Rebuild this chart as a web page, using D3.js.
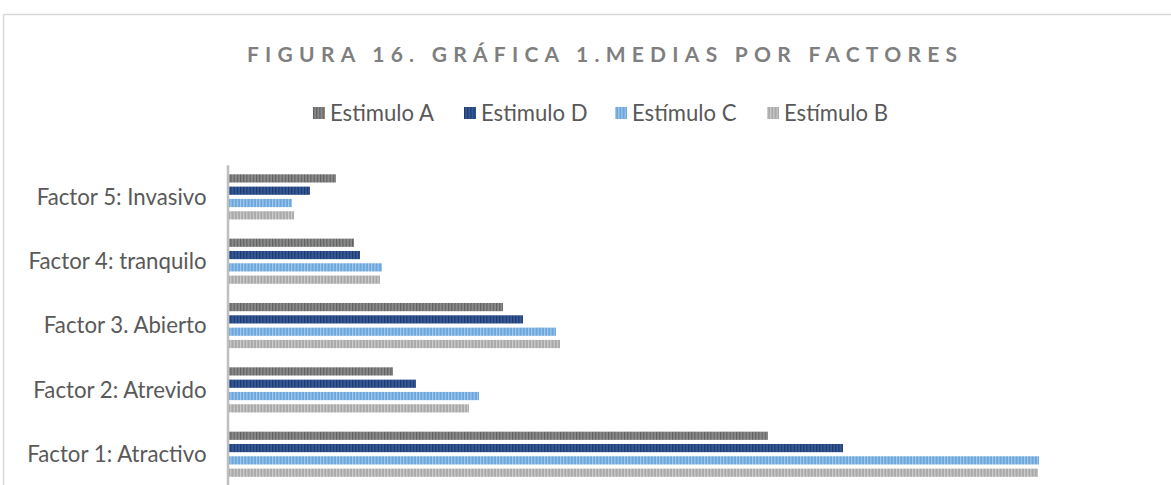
<!DOCTYPE html>
<html>
<head>
<meta charset="utf-8">
<script src="https://cdn.jsdelivr.net/npm/d3@7"></script>
<style>
  html, body { margin: 0; padding: 0; background: #fff; }
  svg { display: block; }
</style>
</head>
<body>
<svg id="chart" width="1171" height="485"></svg>
<script>
// ---- data ----
const categories = ["Factor 1: Atractivo", "Factor 2: Atrevido", "Factor 3. Abierto", "Factor 4: tranquilo", "Factor 5: Invasivo"];
const seriesNames = ["Estimulo A", "Estimulo D", "Estímulo C", "Estímulo B"];
const estimuloA = [5.39, 1.64, 2.74, 1.25, 1.07];
const estimuloD = [6.14, 1.87, 2.94, 1.31, 0.81];
const estimuloC = [8.10, 2.50, 3.27, 1.53, 0.63];
const estimuloB = [8.09, 2.40, 3.31, 1.51, 0.65];
const titleText = "FIGURA 16. GRÁFICA 1.MEDIAS POR FACTORES";

const seriesValues = [estimuloA, estimuloD, estimuloC, estimuloB];
const seriesStyle = [
  { base: "#8a8a8a", stripe: "#5e5e5e" },
  { base: "#34589a", stripe: "#1f3864" },
  { base: "#6aa6dc", stripe: "#a9cdee" },
  { base: "#a9a9a9", stripe: "#cfcfcf" }
];

const svg = d3.select("#chart");
const font = "Lato, 'Open Sans', sans-serif";

// helper: fit font-size so a reference text gets a target width
function fitSize(family, weight, sample, targetW) {
  const t = svg.append("text").attr("font-family", family).attr("font-weight", weight)
    .attr("font-size", 20).text(sample);
  const w = t.node().getComputedTextLength();
  t.remove();
  return 20 * targetW / w;
}
const labelSize = fitSize(font, "normal", "Factor 4: tranquilo", 178);
const legendSize = fitSize(font, "normal", "Estimulo A", 104);

// patterns
const defs = svg.append("defs");
seriesStyle.forEach((s, i) => {
  const p = defs.append("pattern")
    .attr("id", "pat" + i)
    .attr("patternUnits", "userSpaceOnUse")
    .attr("width", 3.2).attr("height", 10);
  p.append("rect").attr("width", 3.2).attr("height", 10).attr("fill", s.base);
  p.append("rect").attr("x", 0).attr("width", 1.1).attr("height", 10).attr("fill", s.stripe);
});

// chart border
svg.append("path")
  .attr("d", "M3.5,486 L3.5,14.5 L1175,14.5")
  .attr("fill", "none").attr("stroke", "#d9d9d9").attr("stroke-width", 1.5);

// title
const title = svg.append("text")
  .attr("x", 602).attr("y", 62)
  .attr("text-anchor", "middle")
  .attr("font-family", font)
  .attr("font-weight", "bold")
  .attr("font-size", 21)
  .attr("fill", "#7f7f7f")
  .text(titleText);
{
  const targetW = 710;
  const n = titleText.length;
  const w = title.node().getComputedTextLength();
  const ls = (targetW - w) / (n - 1);
  title.attr("letter-spacing", ls);
  title.attr("x", 602 + ls / 2);
}

// scales
const y = d3.scaleBand()
  .domain(categories.slice().reverse())
  .range([164.7, 486.4])
  .padding(0);
const yInner = d3.scaleBand()
  .domain(d3.range(seriesNames.length))
  .range([0, y.bandwidth()])
  .paddingInner(1 / 3)
  .paddingOuter(0.78);
const x = d3.scaleLinear().domain([0, 9.2]).range([229, 1149]);

// bars
const groups = svg.append("g").selectAll("g")
  .data(categories)
  .join("g")
  .attr("transform", d => `translate(0,${y(d)})`);
groups.selectAll("rect")
  .data((d, ci) => seriesValues.map((vals, si) => ({ si, v: vals[ci] })))
  .join("rect")
  .attr("x", x(0))
  .attr("y", d => yInner(d.si))
  .attr("width", d => x(d.v) - x(0))
  .attr("height", yInner.bandwidth())
  .attr("fill", d => `url(#pat${d.si})`);

// y axis (line only + labels)
const yAxis = d3.axisLeft(y).tickSize(0).tickPadding(21);
const ga = svg.append("g").attr("transform", `translate(${x(0) - 1.5},0)`).call(yAxis);
ga.select(".domain").attr("stroke", "#bfbfbf").attr("stroke-width", 2.5);
ga.selectAll("text")
  .attr("font-family", font)
  .attr("font-size", labelSize)
  .attr("fill", "#595959")
  .attr("dy", "0.35em");

// legend
const legendX = [313, 464, 615, 767];
const lg = svg.append("g").selectAll("g")
  .data(seriesNames)
  .join("g")
  .attr("transform", (d, i) => `translate(${legendX[i]},107)`);
lg.append("rect").attr("width", 12).attr("height", 12).attr("fill", (d, i) => `url(#pat${i})`);
lg.append("text")
  .attr("x", 17).attr("y", 6)
  .attr("dy", "0.35em")
  .attr("font-family", font)
  .attr("font-size", legendSize)
  .attr("fill", "#595959")
  .text(d => d);
</script>
</body>
</html>
